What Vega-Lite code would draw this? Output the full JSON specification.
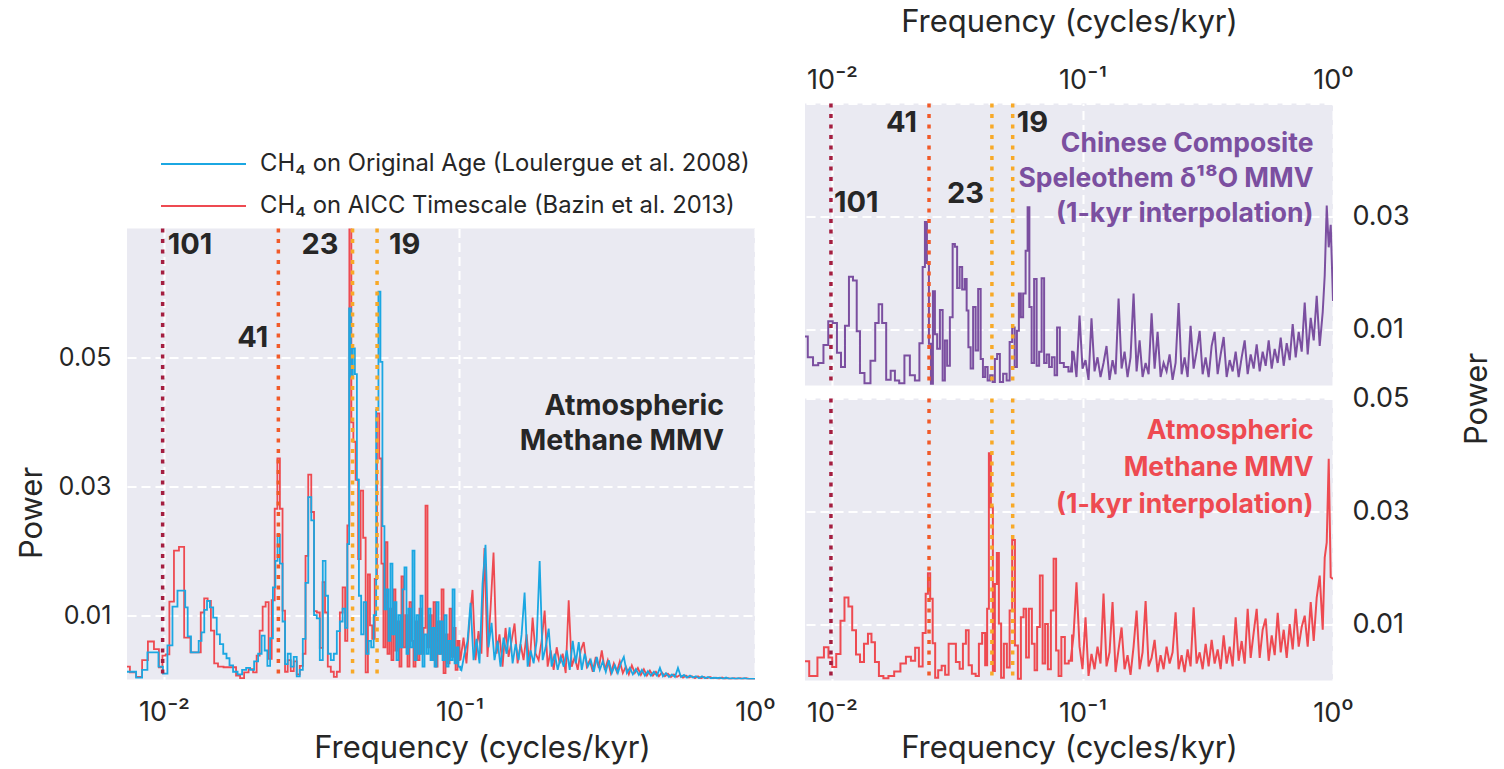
{
"$schema":"https://vega.github.io/schema/vega-lite/v6.json",
"background":"white",
"padding":{"left":16,"top":6.5,"right":5,"bottom":3},
"bounds":"flush",
"spacing":678,
"config":{
"font":"Inter",
"view":{"stroke":null},
"axis":{"domain":false,"ticks":false,"labelFont":"Inter","labelFontSize":27,"labelColor":"#262626","titleFont":"Inter","titleFontSize":31,"titleFontWeight":"normal","titleColor":"#262626","gridColor":"#ffffff","gridDash":[9,5],"gridWidth":2,"gridOpacity":1,"labelFlush":false,"labelOverlap":false}
},
"datasets":{
"aicc":[{"f":0.0075,"p":0.002},{"f":0.00785,"p":0.0011},{"f":0.00826,"p":0.0004},{"f":0.00862,"p":0.003},{"f":0.00904,"p":0.0059},{"f":0.00947,"p":0.0047},{"f":0.00977,"p":0.0019},{"f":0.01,"p":0.0037},{"f":0.01027,"p":0.0039},{"f":0.0106,"p":0.0121},{"f":0.01103,"p":0.02},{"f":0.01146,"p":0.0206},{"f":0.01196,"p":0.0065},{"f":0.01264,"p":0.0042},{"f":0.01315,"p":0.0042},{"f":0.0135,"p":0.0104},{"f":0.01387,"p":0.0126},{"f":0.01425,"p":0.0122},{"f":0.01459,"p":0.0076},{"f":0.015,"p":0.0025},{"f":0.01548,"p":0.002},{"f":0.01635,"p":0.0019},{"f":0.01727,"p":0.0019},{"f":0.01782,"p":0.0006},{"f":0.01839,"p":0.0002},{"f":0.01897,"p":0.0011},{"f":0.01972,"p":0.0016},{"f":0.02035,"p":0.0011},{"f":0.02084,"p":0.0037},{"f":0.02133,"p":0.0076},{"f":0.02183,"p":0.0113},{"f":0.02235,"p":0.012},{"f":0.02288,"p":0.0032},{"f":0.02343,"p":0.0123},{"f":0.02398,"p":0.0265},{"f":0.02443,"p":0.0343},{"f":0.02494,"p":0.0265},{"f":0.02546,"p":0.0107},{"f":0.02593,"p":0.0012},{"f":0.02654,"p":0.003},{"f":0.02718,"p":0.0013},{"f":0.02781,"p":0.0028},{"f":0.02848,"p":0.0008},{"f":0.02916,"p":0.0021},{"f":0.02986,"p":0.004},{"f":0.03042,"p":0.0192},{"f":0.03115,"p":0.0318},{"f":0.03189,"p":0.026},{"f":0.03252,"p":0.0106},{"f":0.03329,"p":0.0104},{"f":0.03408,"p":0.0049},{"f":0.03474,"p":0.0151},{"f":0.03543,"p":0.0104},{"f":0.03627,"p":0.002},{"f":0.03714,"p":0.0012},{"f":0.03801,"p":0.0004},{"f":0.03892,"p":0.0012},{"f":0.03985,"p":0.0104},{"f":0.04063,"p":0.0143},{"f":0.04143,"p":0.006},{"f":0.04208,"p":0.0239},{"f":0.04274,"p":0.072},{"f":0.04341,"p":0.0399},{"f":0.04409,"p":0.0369},{"f":0.04497,"p":0.031},{"f":0.04585,"p":0.0187},{"f":0.04676,"p":0.0293},{"f":0.04768,"p":0.022},{"f":0.04862,"p":0.0011},{"f":0.0494,"p":0.0163},{"f":0.05019,"p":0.0084},{"f":0.05117,"p":0.0063},{"f":0.05218,"p":0.0156},{"f":0.053,"p":0.0413},{"f":0.05402,"p":0.0343},{"f":0.05487,"p":0.018},{"f":0.05574,"p":0.005},{"f":0.05662,"p":0.0213},{"f":0.05752,"p":0.004},{"f":0.0584,"p":0.011},{"f":0.05933,"p":0.003},{"f":0.06026,"p":0.014},{"f":0.06121,"p":0.0045},{"f":0.06217,"p":0.009},{"f":0.06315,"p":0.002},{"f":0.06414,"p":0.016},{"f":0.06515,"p":0.005},{"f":0.06618,"p":0.01},{"f":0.06723,"p":0.002},{"f":0.06828,"p":0.012},{"f":0.06936,"p":0.006},{"f":0.07045,"p":0.002},{"f":0.07156,"p":0.009},{"f":0.07268,"p":0.003},{"f":0.07382,"p":0.011},{"f":0.07498,"p":0.004},{"f":0.07616,"p":0.008},{"f":0.07736,"p":0.027},{"f":0.07858,"p":0.005},{"f":0.07982,"p":0.01},{"f":0.08107,"p":0.003},{"f":0.08235,"p":0.012},{"f":0.08364,"p":0.002},{"f":0.08496,"p":0.009},{"f":0.0863,"p":0.004},{"f":0.08766,"p":0.014},{"f":0.08903,"p":0.001},{"f":0.09043,"p":0.007},{"f":0.09186,"p":0.0025},{"f":0.0933,"p":0.011},{"f":0.09477,"p":0.0035},{"f":0.09626,"p":0.008},{"f":0.09777,"p":0.0015},{"f":0.09931,"p":0.006},{"f":0.1008,"p":0.003},{"f":0.1032,"p":0.0065},{"f":0.1056,"p":0.0025},{"f":0.1081,"p":0.009},{"f":0.1107,"p":0.0139},{"f":0.1133,"p":0.003},{"f":0.116,"p":0.0075},{"f":0.1187,"p":0.004},{"f":0.1215,"p":0.0204},{"f":0.1244,"p":0.0035},{"f":0.1274,"p":0.011},{"f":0.1304,"p":0.0197},{"f":0.1335,"p":0.004},{"f":0.1366,"p":0.007},{"f":0.1399,"p":0.002},{"f":0.1432,"p":0.008},{"f":0.1466,"p":0.0035},{"f":0.1501,"p":0.006},{"f":0.1536,"p":0.0087},{"f":0.1573,"p":0.0025},{"f":0.161,"p":0.0055},{"f":0.1648,"p":0.003},{"f":0.1687,"p":0.007},{"f":0.1727,"p":0.002},{"f":0.1768,"p":0.0096},{"f":0.181,"p":0.004},{"f":0.1853,"p":0.003},{"f":0.1897,"p":0.006},{"f":0.1942,"p":0.0107},{"f":0.1988,"p":0.002},{"f":0.2035,"p":0.0045},{"f":0.2083,"p":0.0015},{"f":0.2133,"p":0.005},{"f":0.2183,"p":0.0025},{"f":0.2235,"p":0.004},{"f":0.2288,"p":0.001},{"f":0.2342,"p":0.0123},{"f":0.2398,"p":0.002},{"f":0.2455,"p":0.0035},{"f":0.2513,"p":0.0015},{"f":0.2572,"p":0.0045},{"f":0.2633,"p":0.0058},{"f":0.2696,"p":0.002},{"f":0.276,"p":0.003},{"f":0.2825,"p":0.0012},{"f":0.2892,"p":0.0035},{"f":0.2961,"p":0.0018},{"f":0.3031,"p":0.0045},{"f":0.3103,"p":0.0015},{"f":0.3176,"p":0.003},{"f":0.3252,"p":0.001},{"f":0.3329,"p":0.0025},{"f":0.3408,"p":0.0012},{"f":0.3488,"p":0.0028},{"f":0.3571,"p":0.001},{"f":0.3656,"p":0.002},{"f":0.3742,"p":0.0008},{"f":0.3831,"p":0.0022},{"f":0.3922,"p":0.001},{"f":0.4015,"p":0.0018},{"f":0.411,"p":0.0007},{"f":0.4207,"p":0.0016},{"f":0.4307,"p":0.0006},{"f":0.4409,"p":0.0014},{"f":0.4514,"p":0.0006},{"f":0.4621,"p":0.0012},{"f":0.473,"p":0.0005},{"f":0.4842,"p":0.0011},{"f":0.4957,"p":0.0005},{"f":0.5075,"p":0.0009},{"f":0.5195,"p":0.0004},{"f":0.5318,"p":0.0008},{"f":0.5444,"p":0.0004},{"f":0.5573,"p":0.0007},{"f":0.5705,"p":0.0003},{"f":0.584,"p":0.0006},{"f":0.5979,"p":0.0003},{"f":0.612,"p":0.0005},{"f":0.6265,"p":0.0002},{"f":0.6414,"p":0.0005},{"f":0.6566,"p":0.0002},{"f":0.6722,"p":0.0004},{"f":0.6881,"p":0.0002},{"f":0.7044,"p":0.0004},{"f":0.7211,"p":0.0002},{"f":0.7382,"p":0.0003},{"f":0.7557,"p":0.0001},{"f":0.7736,"p":0.0003},{"f":0.792,"p":0.0001},{"f":0.8107,"p":0.0002},{"f":0.8299,"p":0.0001},{"f":0.8496,"p":0.0002},{"f":0.8697,"p":0.0001},{"f":0.8903,"p":0.0002},{"f":0.9114,"p":0.0001},{"f":0.933,"p":0.0002},{"f":0.9551,"p":0.0001},{"f":0.9777,"p":0.0001},{"f":1.0,"p":0.0001}],
"orig":[{"f":0.0075,"p":0.0012},{"f":0.00785,"p":0.0012},{"f":0.00826,"p":0.0003},{"f":0.00862,"p":0.0015},{"f":0.00897,"p":0.0042},{"f":0.0094,"p":0.0042},{"f":0.00977,"p":0.002},{"f":0.01008,"p":0.0009},{"f":0.01048,"p":0.0053},{"f":0.0109,"p":0.0113},{"f":0.01133,"p":0.0138},{"f":0.01169,"p":0.0138},{"f":0.01192,"p":0.0112},{"f":0.01215,"p":0.0067},{"f":0.01255,"p":0.0042},{"f":0.01297,"p":0.0042},{"f":0.01325,"p":0.006},{"f":0.01356,"p":0.0073},{"f":0.01383,"p":0.0108},{"f":0.01415,"p":0.0122},{"f":0.01447,"p":0.0112},{"f":0.01489,"p":0.0096},{"f":0.01529,"p":0.007},{"f":0.01565,"p":0.0055},{"f":0.0161,"p":0.004},{"f":0.01647,"p":0.0033},{"f":0.01687,"p":0.0022},{"f":0.01741,"p":0.0012},{"f":0.0181,"p":0.0008},{"f":0.01868,"p":0.0015},{"f":0.01927,"p":0.0018},{"f":0.01988,"p":0.0015},{"f":0.02051,"p":0.0028},{"f":0.02116,"p":0.004},{"f":0.02166,"p":0.0068},{"f":0.02218,"p":0.0045},{"f":0.0226,"p":0.0021},{"f":0.02315,"p":0.0064},{"f":0.0236,"p":0.0143},{"f":0.02405,"p":0.0184},{"f":0.02443,"p":0.0225},{"f":0.02494,"p":0.018},{"f":0.02546,"p":0.009},{"f":0.02593,"p":0.0024},{"f":0.02654,"p":0.004},{"f":0.02718,"p":0.002},{"f":0.02781,"p":0.0035},{"f":0.02848,"p":0.0005},{"f":0.02916,"p":0.0015},{"f":0.02986,"p":0.0063},{"f":0.03042,"p":0.015},{"f":0.03115,"p":0.0283},{"f":0.03189,"p":0.0247},{"f":0.03252,"p":0.01},{"f":0.03329,"p":0.0095},{"f":0.03408,"p":0.003},{"f":0.03488,"p":0.0184},{"f":0.03557,"p":0.013},{"f":0.03627,"p":0.004},{"f":0.03714,"p":0.003},{"f":0.03801,"p":0.004},{"f":0.03892,"p":0.0075},{"f":0.03985,"p":0.009},{"f":0.04063,"p":0.011},{"f":0.04143,"p":0.008},{"f":0.04208,"p":0.021},{"f":0.04257,"p":0.0576},{"f":0.04324,"p":0.047},{"f":0.04392,"p":0.0514},{"f":0.04462,"p":0.0474},{"f":0.04533,"p":0.031},{"f":0.04604,"p":0.013},{"f":0.04694,"p":0.007},{"f":0.04787,"p":0.012},{"f":0.04881,"p":0.004},{"f":0.04977,"p":0.006},{"f":0.05075,"p":0.005},{"f":0.05175,"p":0.01},{"f":0.05278,"p":0.0418},{"f":0.05361,"p":0.0602},{"f":0.05444,"p":0.0493},{"f":0.0553,"p":0.0238},{"f":0.05617,"p":0.0109},{"f":0.05706,"p":0.014},{"f":0.05796,"p":0.006},{"f":0.05887,"p":0.018},{"f":0.0598,"p":0.007},{"f":0.06073,"p":0.012},{"f":0.06169,"p":0.003},{"f":0.06266,"p":0.01},{"f":0.06365,"p":0.005},{"f":0.06465,"p":0.014},{"f":0.06566,"p":0.0174},{"f":0.0667,"p":0.004},{"f":0.06775,"p":0.011},{"f":0.06882,"p":0.005},{"f":0.0699,"p":0.02},{"f":0.071,"p":0.003},{"f":0.07212,"p":0.01},{"f":0.07325,"p":0.004},{"f":0.0744,"p":0.013},{"f":0.07557,"p":0.002},{"f":0.07676,"p":0.007},{"f":0.07797,"p":0.004},{"f":0.0792,"p":0.011},{"f":0.08044,"p":0.003},{"f":0.08171,"p":0.008},{"f":0.08299,"p":0.002},{"f":0.0843,"p":0.012},{"f":0.08563,"p":0.004},{"f":0.08697,"p":0.009},{"f":0.08834,"p":0.003},{"f":0.08973,"p":0.01},{"f":0.09114,"p":0.002},{"f":0.09257,"p":0.006},{"f":0.09403,"p":0.003},{"f":0.09551,"p":0.014},{"f":0.09701,"p":0.0025},{"f":0.09854,"p":0.005},{"f":0.1,"p":0.002},{"f":0.1016,"p":0.0015},{"f":0.104,"p":0.004},{"f":0.1065,"p":0.006},{"f":0.109,"p":0.0119},{"f":0.1116,"p":0.003},{"f":0.1142,"p":0.0063},{"f":0.1169,"p":0.0025},{"f":0.1197,"p":0.0149},{"f":0.1225,"p":0.0209},{"f":0.1254,"p":0.005},{"f":0.1284,"p":0.0088},{"f":0.1314,"p":0.003},{"f":0.1346,"p":0.006},{"f":0.1377,"p":0.002},{"f":0.141,"p":0.0065},{"f":0.1444,"p":0.004},{"f":0.1478,"p":0.0081},{"f":0.1513,"p":0.0025},{"f":0.1549,"p":0.0055},{"f":0.1585,"p":0.003},{"f":0.1623,"p":0.007},{"f":0.1661,"p":0.0135},{"f":0.1701,"p":0.002},{"f":0.1741,"p":0.0045},{"f":0.1782,"p":0.0025},{"f":0.1825,"p":0.006},{"f":0.1868,"p":0.0184},{"f":0.1912,"p":0.003},{"f":0.1957,"p":0.005},{"f":0.2004,"p":0.0079},{"f":0.2051,"p":0.002},{"f":0.21,"p":0.004},{"f":0.215,"p":0.0015},{"f":0.2201,"p":0.0035},{"f":0.2253,"p":0.002},{"f":0.2306,"p":0.0045},{"f":0.2361,"p":0.0015},{"f":0.2417,"p":0.006},{"f":0.2474,"p":0.0025},{"f":0.2533,"p":0.0058},{"f":0.2593,"p":0.0015},{"f":0.2654,"p":0.004},{"f":0.2717,"p":0.002},{"f":0.2782,"p":0.003},{"f":0.2848,"p":0.0012},{"f":0.2915,"p":0.0035},{"f":0.2984,"p":0.0015},{"f":0.3055,"p":0.0028},{"f":0.3127,"p":0.0012},{"f":0.3201,"p":0.003},{"f":0.3277,"p":0.001},{"f":0.3355,"p":0.0022},{"f":0.3435,"p":0.001},{"f":0.3516,"p":0.0025},{"f":0.3599,"p":0.0035},{"f":0.3685,"p":0.001},{"f":0.3772,"p":0.0018},{"f":0.3861,"p":0.0008},{"f":0.3953,"p":0.0016},{"f":0.4047,"p":0.0007},{"f":0.4143,"p":0.0015},{"f":0.4241,"p":0.0006},{"f":0.4341,"p":0.0013},{"f":0.4444,"p":0.0006},{"f":0.455,"p":0.0012},{"f":0.4657,"p":0.0006},{"f":0.4768,"p":0.0018},{"f":0.4881,"p":0.0005},{"f":0.4997,"p":0.001},{"f":0.5115,"p":0.0004},{"f":0.5236,"p":0.0008},{"f":0.536,"p":0.0004},{"f":0.5487,"p":0.0018},{"f":0.5617,"p":0.0004},{"f":0.575,"p":0.0007},{"f":0.5887,"p":0.0003},{"f":0.6026,"p":0.0006},{"f":0.6169,"p":0.0003},{"f":0.6315,"p":0.0005},{"f":0.6465,"p":0.0002},{"f":0.6618,"p":0.0005},{"f":0.6775,"p":0.0002},{"f":0.6935,"p":0.0004},{"f":0.71,"p":0.0002},{"f":0.7268,"p":0.0003},{"f":0.744,"p":0.0002},{"f":0.7617,"p":0.0003},{"f":0.7797,"p":0.0001},{"f":0.7982,"p":0.0003},{"f":0.8171,"p":0.0001},{"f":0.8365,"p":0.0002},{"f":0.8563,"p":0.0001},{"f":0.8766,"p":0.0002},{"f":0.8974,"p":0.0001},{"f":0.9187,"p":0.0002},{"f":0.9405,"p":0.0001},{"f":0.9627,"p":0.0001},{"f":0.9855,"p":0.0001},{"f":1.0,"p":0.0001}],
"speleo":[{"f":0.0078,"p":0.0087},{"f":0.00821,"p":0.005},{"f":0.00859,"p":0.0036},{"f":0.00903,"p":0.004},{"f":0.00946,"p":0.0072},{"f":0.00986,"p":0.0114},{"f":0.01027,"p":0.0111},{"f":0.01066,"p":0.0058},{"f":0.01106,"p":0.0033},{"f":0.01147,"p":0.0106},{"f":0.0119,"p":0.0193},{"f":0.01235,"p":0.0186},{"f":0.01275,"p":0.0096},{"f":0.01311,"p":0.0022},{"f":0.01385,"p":0.0004},{"f":0.01464,"p":0.0044},{"f":0.01511,"p":0.0111},{"f":0.0156,"p":0.0144},{"f":0.01611,"p":0.0111},{"f":0.0168,"p":0.001},{"f":0.0175,"p":0.0026},{"f":0.01816,"p":0.0009},{"f":0.01893,"p":0.0004},{"f":0.01999,"p":0.0053},{"f":0.02093,"p":0.0018},{"f":0.02192,"p":0.0009},{"f":0.02274,"p":0.0075},{"f":0.02327,"p":0.021},{"f":0.02371,"p":0.029},{"f":0.02415,"p":0.0217},{"f":0.02459,"p":0.0074},{"f":0.02505,"p":0.0003},{"f":0.02551,"p":0.0167},{"f":0.02599,"p":0.0091},{"f":0.02659,"p":0.0065},{"f":0.02733,"p":0.0134},{"f":0.02796,"p":0.0009},{"f":0.02848,"p":0.008},{"f":0.02914,"p":0.0035},{"f":0.02995,"p":0.0121},{"f":0.03066,"p":0.0251},{"f":0.03122,"p":0.0246},{"f":0.03194,"p":0.0173},{"f":0.0327,"p":0.021},{"f":0.03345,"p":0.017},{"f":0.03423,"p":0.0189},{"f":0.03471,"p":0.0133},{"f":0.03535,"p":0.0068},{"f":0.03617,"p":0.003},{"f":0.03701,"p":0.0139},{"f":0.03788,"p":0.0062},{"f":0.03876,"p":0.0171},{"f":0.03967,"p":0.0047},{"f":0.0404,"p":0.0015},{"f":0.04133,"p":0.0033},{"f":0.04229,"p":0.0009},{"f":0.04328,"p":0.0018},{"f":0.04427,"p":0.0006},{"f":0.04509,"p":0.0047},{"f":0.04614,"p":0.0056},{"f":0.04743,"p":0.0006},{"f":0.04898,"p":0.0021},{"f":0.05058,"p":0.0009},{"f":0.05177,"p":0.0077},{"f":0.05299,"p":0.0103},{"f":0.05421,"p":0.0033},{"f":0.05521,"p":0.0097},{"f":0.05622,"p":0.0163},{"f":0.05728,"p":0.0121},{"f":0.0586,"p":0.0163},{"f":0.05995,"p":0.0239},{"f":0.0608,"p":0.0316},{"f":0.06192,"p":0.0139},{"f":0.06336,"p":0.004},{"f":0.06483,"p":0.0189},{"f":0.06634,"p":0.0035},{"f":0.06789,"p":0.006},{"f":0.06946,"p":0.019},{"f":0.07107,"p":0.004},{"f":0.07273,"p":0.0055},{"f":0.07441,"p":0.0033},{"f":0.0765,"p":0.005},{"f":0.07827,"p":0.0018},{"f":0.08007,"p":0.0103},{"f":0.08231,"p":0.004},{"f":0.08619,"p":0.0033},{"f":0.0896,"p":0.0025},{"f":0.0921,"p":0.006},{"f":0.0946,"p":0.0015},{"f":0.0973,"p":0.0124},{"f":0.1,"p":0.003},{"f":0.1028,"p":0.0045},{"f":0.1057,"p":0.001},{"f":0.1086,"p":0.0119},{"f":0.1117,"p":0.0025},{"f":0.1148,"p":0.005},{"f":0.118,"p":0.0015},{"f":0.1213,"p":0.004},{"f":0.1247,"p":0.007},{"f":0.1282,"p":0.001},{"f":0.1318,"p":0.0045},{"f":0.1355,"p":0.002},{"f":0.1393,"p":0.0154},{"f":0.1432,"p":0.003},{"f":0.1472,"p":0.006},{"f":0.1513,"p":0.0015},{"f":0.1555,"p":0.005},{"f":0.1599,"p":0.0163},{"f":0.1644,"p":0.0025},{"f":0.169,"p":0.008},{"f":0.1737,"p":0.0015},{"f":0.1786,"p":0.004},{"f":0.1836,"p":0.002},{"f":0.1887,"p":0.0128},{"f":0.194,"p":0.003},{"f":0.1994,"p":0.0095},{"f":0.205,"p":0.0015},{"f":0.2107,"p":0.004},{"f":0.2166,"p":0.0025},{"f":0.2227,"p":0.0055},{"f":0.2289,"p":0.001},{"f":0.2353,"p":0.004},{"f":0.2419,"p":0.0146},{"f":0.2487,"p":0.002},{"f":0.2556,"p":0.005},{"f":0.2628,"p":0.0015},{"f":0.2701,"p":0.0106},{"f":0.2777,"p":0.003},{"f":0.2855,"p":0.006},{"f":0.2935,"p":0.0097},{"f":0.3017,"p":0.002},{"f":0.3101,"p":0.005},{"f":0.3188,"p":0.0015},{"f":0.3277,"p":0.007},{"f":0.3369,"p":0.0095},{"f":0.3463,"p":0.002},{"f":0.356,"p":0.0055},{"f":0.366,"p":0.0086},{"f":0.3762,"p":0.0015},{"f":0.3868,"p":0.0045},{"f":0.3976,"p":0.0025},{"f":0.4087,"p":0.006},{"f":0.4201,"p":0.0015},{"f":0.4319,"p":0.005},{"f":0.444,"p":0.008},{"f":0.4564,"p":0.002},{"f":0.4692,"p":0.0055},{"f":0.4823,"p":0.003},{"f":0.4958,"p":0.0073},{"f":0.5097,"p":0.0025},{"f":0.5239,"p":0.006},{"f":0.5386,"p":0.0035},{"f":0.5537,"p":0.008},{"f":0.5692,"p":0.003},{"f":0.5851,"p":0.0065},{"f":0.6015,"p":0.004},{"f":0.6183,"p":0.0085},{"f":0.6356,"p":0.0035},{"f":0.6534,"p":0.0075},{"f":0.6716,"p":0.0045},{"f":0.6904,"p":0.0109},{"f":0.7097,"p":0.005},{"f":0.7296,"p":0.0095},{"f":0.75,"p":0.006},{"f":0.771,"p":0.0147},{"f":0.7925,"p":0.0055},{"f":0.8147,"p":0.012},{"f":0.8375,"p":0.008},{"f":0.8609,"p":0.0159},{"f":0.885,"p":0.007},{"f":0.9098,"p":0.013},{"f":0.9267,"p":0.0195},{"f":0.944,"p":0.0319},{"f":0.9614,"p":0.0245},{"f":0.9793,"p":0.0285},{"f":1.0,"p":0.015}],
"ch4kyr":[{"f":0.0078,"p":0.0034},{"f":0.00843,"p":0.0008},{"f":0.00907,"p":0.0041},{"f":0.0095,"p":0.0059},{"f":0.00986,"p":0.0041},{"f":0.01018,"p":0.0024},{"f":0.01061,"p":0.0047},{"f":0.01101,"p":0.0106},{"f":0.01142,"p":0.0147},{"f":0.01184,"p":0.0131},{"f":0.01224,"p":0.0089},{"f":0.0127,"p":0.0046},{"f":0.01317,"p":0.0033},{"f":0.01366,"p":0.0065},{"f":0.01417,"p":0.0083},{"f":0.01457,"p":0.0068},{"f":0.01511,"p":0.0033},{"f":0.01567,"p":0.0008},{"f":0.01641,"p":0.0004},{"f":0.01719,"p":0.0008},{"f":0.01824,"p":0.0016},{"f":0.01928,"p":0.003},{"f":0.02018,"p":0.0042},{"f":0.02113,"p":0.0035},{"f":0.02182,"p":0.0058},{"f":0.02263,"p":0.0025},{"f":0.02338,"p":0.0084},{"f":0.02393,"p":0.0154},{"f":0.02437,"p":0.019},{"f":0.02494,"p":0.0145},{"f":0.02551,"p":0.0066},{"f":0.02611,"p":0.0005},{"f":0.02696,"p":0.0018},{"f":0.02784,"p":0.0026},{"f":0.02874,"p":0.001},{"f":0.02968,"p":0.0065},{"f":0.03066,"p":0.0065},{"f":0.0318,"p":0.0033},{"f":0.03285,"p":0.0021},{"f":0.03377,"p":0.0065},{"f":0.03471,"p":0.0089},{"f":0.03551,"p":0.0027},{"f":0.03684,"p":0.0012},{"f":0.03806,"p":0.0008},{"f":0.0391,"p":0.0065},{"f":0.0404,"p":0.0084},{"f":0.04133,"p":0.0027},{"f":0.0419,"p":0.0127},{"f":0.04268,"p":0.0403},{"f":0.04347,"p":0.0307},{"f":0.04427,"p":0.0017},{"f":0.04509,"p":0.0171},{"f":0.04593,"p":0.0226},{"f":0.04678,"p":0.0101},{"f":0.04786,"p":0.0005},{"f":0.0492,"p":0.0065},{"f":0.05058,"p":0.0023},{"f":0.05177,"p":0.0124},{"f":0.05299,"p":0.0249},{"f":0.05446,"p":0.0062},{"f":0.05596,"p":0.0003},{"f":0.05754,"p":0.0112},{"f":0.05887,"p":0.0127},{"f":0.06023,"p":0.0041},{"f":0.06192,"p":0.0127},{"f":0.06364,"p":0.0065},{"f":0.06513,"p":0.0018},{"f":0.06665,"p":0.0095},{"f":0.06851,"p":0.0186},{"f":0.0701,"p":0.003},{"f":0.07173,"p":0.01},{"f":0.07373,"p":0.002},{"f":0.07579,"p":0.0124},{"f":0.07755,"p":0.0216},{"f":0.07935,"p":0.0053},{"f":0.0812,"p":0.0008},{"f":0.08346,"p":0.0077},{"f":0.08658,"p":0.003},{"f":0.0896,"p":0.0035},{"f":0.0921,"p":0.008},{"f":0.0946,"p":0.0174},{"f":0.0973,"p":0.006},{"f":0.1,"p":0.002},{"f":0.1028,"p":0.0112},{"f":0.1057,"p":0.0008},{"f":0.1086,"p":0.0047},{"f":0.1117,"p":0.002},{"f":0.1148,"p":0.006},{"f":0.118,"p":0.003},{"f":0.1213,"p":0.0154},{"f":0.1247,"p":0.0025},{"f":0.1282,"p":0.005},{"f":0.1318,"p":0.0139},{"f":0.1355,"p":0.0015},{"f":0.1393,"p":0.0055},{"f":0.1432,"p":0.0094},{"f":0.1472,"p":0.002},{"f":0.1513,"p":0.0045},{"f":0.1555,"p":0.001},{"f":0.1599,"p":0.006},{"f":0.1644,"p":0.0124},{"f":0.169,"p":0.002},{"f":0.1737,"p":0.005},{"f":0.1786,"p":0.0141},{"f":0.1836,"p":0.0025},{"f":0.1887,"p":0.004},{"f":0.194,"p":0.0072},{"f":0.1994,"p":0.0015},{"f":0.205,"p":0.0045},{"f":0.2107,"p":0.002},{"f":0.2166,"p":0.006},{"f":0.2227,"p":0.003},{"f":0.2289,"p":0.005},{"f":0.2353,"p":0.0121},{"f":0.2419,"p":0.002},{"f":0.2487,"p":0.0045},{"f":0.2556,"p":0.0015},{"f":0.2628,"p":0.0055},{"f":0.2701,"p":0.0025},{"f":0.2777,"p":0.013},{"f":0.2855,"p":0.003},{"f":0.2935,"p":0.005},{"f":0.3017,"p":0.002},{"f":0.3101,"p":0.0065},{"f":0.3188,"p":0.0025},{"f":0.3277,"p":0.0072},{"f":0.3369,"p":0.003},{"f":0.3463,"p":0.0055},{"f":0.356,"p":0.002},{"f":0.366,"p":0.008},{"f":0.3762,"p":0.003},{"f":0.3868,"p":0.006},{"f":0.3976,"p":0.0025},{"f":0.4087,"p":0.0112},{"f":0.4201,"p":0.0035},{"f":0.4319,"p":0.007},{"f":0.444,"p":0.003},{"f":0.4564,"p":0.0127},{"f":0.4692,"p":0.004},{"f":0.4823,"p":0.0085},{"f":0.4958,"p":0.0127},{"f":0.5097,"p":0.004},{"f":0.5239,"p":0.009},{"f":0.5386,"p":0.011},{"f":0.5537,"p":0.0035},{"f":0.5692,"p":0.008},{"f":0.5851,"p":0.0045},{"f":0.6015,"p":0.012},{"f":0.6183,"p":0.005},{"f":0.6356,"p":0.009},{"f":0.6534,"p":0.004},{"f":0.6716,"p":0.01},{"f":0.6904,"p":0.0055},{"f":0.7097,"p":0.0127},{"f":0.7296,"p":0.006},{"f":0.75,"p":0.0095},{"f":0.771,"p":0.0115},{"f":0.7925,"p":0.006},{"f":0.8147,"p":0.0139},{"f":0.8375,"p":0.007},{"f":0.8609,"p":0.0147},{"f":0.885,"p":0.0186},{"f":0.9098,"p":0.009},{"f":0.9267,"p":0.0218},{"f":0.944,"p":0.0245},{"f":0.9614,"p":0.0393},{"f":0.9793,"p":0.0183},{"f":1.0,"p":0.018}],
"periods":[{"period":101,"f":0.009901},{"period":41,"f":0.02439},{"period":23,"f":0.04348},{"period":19,"f":0.05263}]
},
"hconcat":[
{"bounds":"flush","spacing":0,"vconcat":[
{"width":628,"height":125,"data":{"values":[{}]},"mark":{"type":"point","opacity":0}},
{"width":628,"height":451,"view":{"fill":"#EAEAF2"},
"layer":[
{"data":{"name":"aicc"},"transform":[{"filter":"datum.f <= 0.1008"}],"mark":{"type":"line","interpolate":"step","clip":true,"strokeWidth":1.8},
"encoding":{
"x":{"field":"f","type":"quantitative","scale":{"type":"log","domain":[0.0075,1],"nice":false},"axis":{"values":[0.01,0.1,1],"labelExpr":"datum.value < 0.05 ? '10⁻²' : datum.value < 0.5 ? '10⁻¹' : '10⁰'","title":"Frequency (cycles/kyr)","titleX":355,"titleY":69,"titleAlign":"center","titleBaseline":"middle","labelPadding":20,"grid":true}},
"y":{"field":"p","type":"quantitative","scale":{"domain":[0,0.07],"nice":false,"zero":false},"axis":{"values":[0.01,0.03,0.05],"format":".2f","labelFontSize":25,"title":"Power","titleAngle":270,"titleX":-95,"titleY":284,"titleAlign":"center","titleBaseline":"middle","labelPadding":16,"grid":true}},
"color":{"datum":"CH₄ on AICC Timescale (Bazin et al. 2013)","scale":{"domain":["CH₄ on Original Age (Loulergue et al. 2008)","CH₄ on AICC Timescale (Bazin et al. 2013)"],"range":["#1BA7E2","#EE4A51"]},
"legend":{"orient":"none","legendX":54,"legendY":38,"title":null,"symbolType":"M-2,0H2","symbolSize":1806,"symbolStrokeWidth":1.8,"labelFont":"Inter","labelFontSize":23.8,"labelColor":"#262626","labelOffset":34,"rowPadding":7,"padding":0,"labelLimit":700}}}},
{"data":{"name":"aicc"},"transform":[{"filter":"datum.f >= 0.0993"}],"mark":{"type":"line","interpolate":"linear","clip":true,"strokeWidth":1.8},
"encoding":{"x":{"field":"f","type":"quantitative"},"y":{"field":"p","type":"quantitative"},"color":{"datum":"CH₄ on AICC Timescale (Bazin et al. 2013)"}}},
{"data":{"name":"orig"},"transform":[{"filter":"datum.f <= 0.1016"}],"mark":{"type":"line","interpolate":"step","clip":true,"strokeWidth":1.8},
"encoding":{"x":{"field":"f","type":"quantitative"},"y":{"field":"p","type":"quantitative"},"color":{"datum":"CH₄ on Original Age (Loulergue et al. 2008)"}}},
{"data":{"name":"orig"},"transform":[{"filter":"datum.f >= 0.1"}],"mark":{"type":"line","interpolate":"linear","clip":true,"strokeWidth":1.8},
"encoding":{"x":{"field":"f","type":"quantitative"},"y":{"field":"p","type":"quantitative"},"color":{"datum":"CH₄ on Original Age (Loulergue et al. 2008)"}}},
{"data":{"name":"periods"},"transform":[{"filter":"datum.period == 101"}],"mark":{"type":"rule","color":"#A41E40","strokeWidth":3.5,"strokeDash":[4,6.5]},"encoding":{"x":{"field":"f","type":"quantitative"}}},
{"data":{"name":"periods"},"transform":[{"filter":"datum.period == 41"}],"mark":{"type":"rule","color":"#F15A29","strokeWidth":3.5,"strokeDash":[4,6.5]},"encoding":{"x":{"field":"f","type":"quantitative"}}},
{"data":{"name":"periods"},"transform":[{"filter":"datum.period == 23 || datum.period == 19"}],"mark":{"type":"rule","color":"#F8A927","strokeWidth":3.5,"strokeDash":[4,6.5]},"encoding":{"x":{"field":"f","type":"quantitative"}}},
{"data":{"values":[{}]},"mark":{"type":"text","align":"left","baseline":"middle","dx":5,"fontSize":29,"fontWeight":"bold","color":"#262626"},"encoding":{"x":{"datum":0.009901},"y":{"datum":0.0674},"text":{"value":"101"}}},
{"data":{"values":[{}]},"mark":{"type":"text","align":"right","baseline":"middle","dx":-10,"fontSize":29,"fontWeight":"bold","color":"#262626"},"encoding":{"x":{"datum":0.02439},"y":{"datum":0.053},"text":{"value":"41"}}},
{"data":{"values":[{}]},"mark":{"type":"text","align":"right","baseline":"middle","dx":-14,"fontSize":29,"fontWeight":"bold","color":"#262626"},"encoding":{"x":{"datum":0.04348},"y":{"datum":0.0674},"text":{"value":"23"}}},
{"data":{"values":[{}]},"mark":{"type":"text","align":"left","baseline":"middle","dx":12,"fontSize":29,"fontWeight":"bold","color":"#262626"},"encoding":{"x":{"datum":0.05263},"y":{"datum":0.0674},"text":{"value":"19"}}},
{"data":{"values":[{}]},"mark":{"type":"text","align":"right","baseline":"middle","dx":2,"fontSize":28.5,"fontWeight":"bold","color":"#262626","lineHeight":35},"encoding":{"x":{"datum":0.773},"y":{"datum":0.0425},"text":{"value":["Atmospheric","Methane MMV"]}}}
]}
]},
{"bounds":"flush","spacing":13,"vconcat":[
{"width":528,"height":282,"view":{"fill":"#EAEAF2"},
"layer":[
{"data":{"name":"speleo"},"transform":[{"filter":"datum.f <= 0.0921"}],"mark":{"type":"line","interpolate":"step","clip":true,"strokeWidth":2,"color":"#7B4FA0"},
"encoding":{
"x":{"field":"f","type":"quantitative","scale":{"type":"log","domain":[0.0078,1],"nice":false},"axis":{"orient":"top","values":[0.01,0.1,1],"labelExpr":"datum.value < 0.05 ? '10⁻²' : datum.value < 0.5 ? '10⁻¹' : '10⁰'","title":"Frequency (cycles/kyr)","titleX":264,"titleY":-81,"titleAlign":"center","titleBaseline":"middle","labelPadding":9,"grid":true}},
"y":{"field":"p","type":"quantitative","scale":{"domain":[0,0.05],"nice":false,"zero":false},"axis":{"orient":"right","values":[0.01,0.03,0.05],"labelExpr":"datum.value > 0.04 ? '' : format(datum.value, '.2f')","title":null,"labelPadding":19,"grid":true}}}},
{"data":{"name":"speleo"},"transform":[{"filter":"datum.f >= 0.0896"}],"mark":{"type":"line","interpolate":"linear","clip":true,"strokeWidth":2,"color":"#7B4FA0"},
"encoding":{"x":{"field":"f","type":"quantitative"},"y":{"field":"p","type":"quantitative"}}},
{"data":{"name":"periods"},"transform":[{"filter":"datum.period == 101"}],"mark":{"type":"rule","color":"#A41E40","strokeWidth":3.5,"strokeDash":[4,6.5]},"encoding":{"x":{"field":"f","type":"quantitative"}}},
{"data":{"name":"periods"},"transform":[{"filter":"datum.period == 41"}],"mark":{"type":"rule","color":"#F15A29","strokeWidth":3.5,"strokeDash":[4,6.5]},"encoding":{"x":{"field":"f","type":"quantitative"}}},
{"data":{"name":"periods"},"transform":[{"filter":"datum.period == 23 || datum.period == 19"}],"mark":{"type":"rule","color":"#F8A927","strokeWidth":3.5,"strokeDash":[4,6.5]},"encoding":{"x":{"field":"f","type":"quantitative"}}},
{"data":{"values":[{}]},"mark":{"type":"text","align":"left","baseline":"middle","dx":3,"fontSize":29,"fontWeight":"bold","color":"#262626"},"encoding":{"x":{"datum":0.009901},"y":{"datum":0.0324},"text":{"value":"101"}}},
{"data":{"values":[{}]},"mark":{"type":"text","align":"right","baseline":"middle","dx":-12,"fontSize":29,"fontWeight":"bold","color":"#262626"},"encoding":{"x":{"datum":0.02439},"y":{"datum":0.0465},"text":{"value":"41"}}},
{"data":{"values":[{}]},"mark":{"type":"text","align":"right","baseline":"middle","dx":-8,"fontSize":29,"fontWeight":"bold","color":"#262626"},"encoding":{"x":{"datum":0.04348},"y":{"datum":0.034},"text":{"value":"23"}}},
{"data":{"values":[{}]},"mark":{"type":"text","align":"left","baseline":"middle","dx":4,"fontSize":29,"fontWeight":"bold","color":"#262626"},"encoding":{"x":{"datum":0.05263},"y":{"datum":0.0465},"text":{"value":"19"}}},
{"data":{"values":[{}]},"mark":{"type":"text","align":"right","baseline":"middle","fontSize":26.5,"fontWeight":"bold","color":"#7B4FA0","lineHeight":35},"encoding":{"x":{"datum":0.836},"y":{"datum":0.0429},"text":{"value":["Chinese Composite","Speleothem δ¹⁸O MMV","(1-kyr interpolation)"]}}}
]},
{"width":528,"height":282,"view":{"fill":"#EAEAF2"},
"layer":[
{"data":{"name":"ch4kyr"},"transform":[{"filter":"datum.f <= 0.0921"}],"mark":{"type":"line","interpolate":"step","clip":true,"strokeWidth":2,"color":"#EE4A51"},
"encoding":{
"x":{"field":"f","type":"quantitative","scale":{"type":"log","domain":[0.0078,1],"nice":false},"axis":{"orient":"bottom","values":[0.01,0.1,1],"labelExpr":"datum.value < 0.05 ? '10⁻²' : datum.value < 0.5 ? '10⁻¹' : '10⁰'","title":"Frequency (cycles/kyr)","titleX":264,"titleY":68,"titleAlign":"center","titleBaseline":"middle","labelPadding":20,"grid":true}},
"y":{"field":"p","type":"quantitative","scale":{"domain":[0,0.05],"nice":false,"zero":false},"axis":{"orient":"right","values":[0.01,0.03,0.05],"format":".2f","title":"Power","titleAngle":270,"titleX":144,"titleY":0,"titleAlign":"center","titleBaseline":"middle","labelPadding":19,"grid":true}}}},
{"data":{"name":"ch4kyr"},"transform":[{"filter":"datum.f >= 0.0896"}],"mark":{"type":"line","interpolate":"linear","clip":true,"strokeWidth":2,"color":"#EE4A51"},
"encoding":{"x":{"field":"f","type":"quantitative"},"y":{"field":"p","type":"quantitative"}}},
{"data":{"name":"periods"},"transform":[{"filter":"datum.period == 101"}],"mark":{"type":"rule","color":"#A41E40","strokeWidth":3.5,"strokeDash":[4,6.5]},"encoding":{"x":{"field":"f","type":"quantitative"}}},
{"data":{"name":"periods"},"transform":[{"filter":"datum.period == 41"}],"mark":{"type":"rule","color":"#F15A29","strokeWidth":3.5,"strokeDash":[4,6.5]},"encoding":{"x":{"field":"f","type":"quantitative"}}},
{"data":{"name":"periods"},"transform":[{"filter":"datum.period == 23 || datum.period == 19"}],"mark":{"type":"rule","color":"#F8A927","strokeWidth":3.5,"strokeDash":[4,6.5]},"encoding":{"x":{"field":"f","type":"quantitative"}}},
{"data":{"values":[{}]},"mark":{"type":"text","align":"right","baseline":"middle","fontSize":26.5,"fontWeight":"bold","color":"#EE4A51","lineHeight":37},"encoding":{"x":{"datum":0.836},"y":{"datum":0.0443},"text":{"value":["Atmospheric","Methane MMV","(1-kyr interpolation)"]}}}
]}
]}
]
}
